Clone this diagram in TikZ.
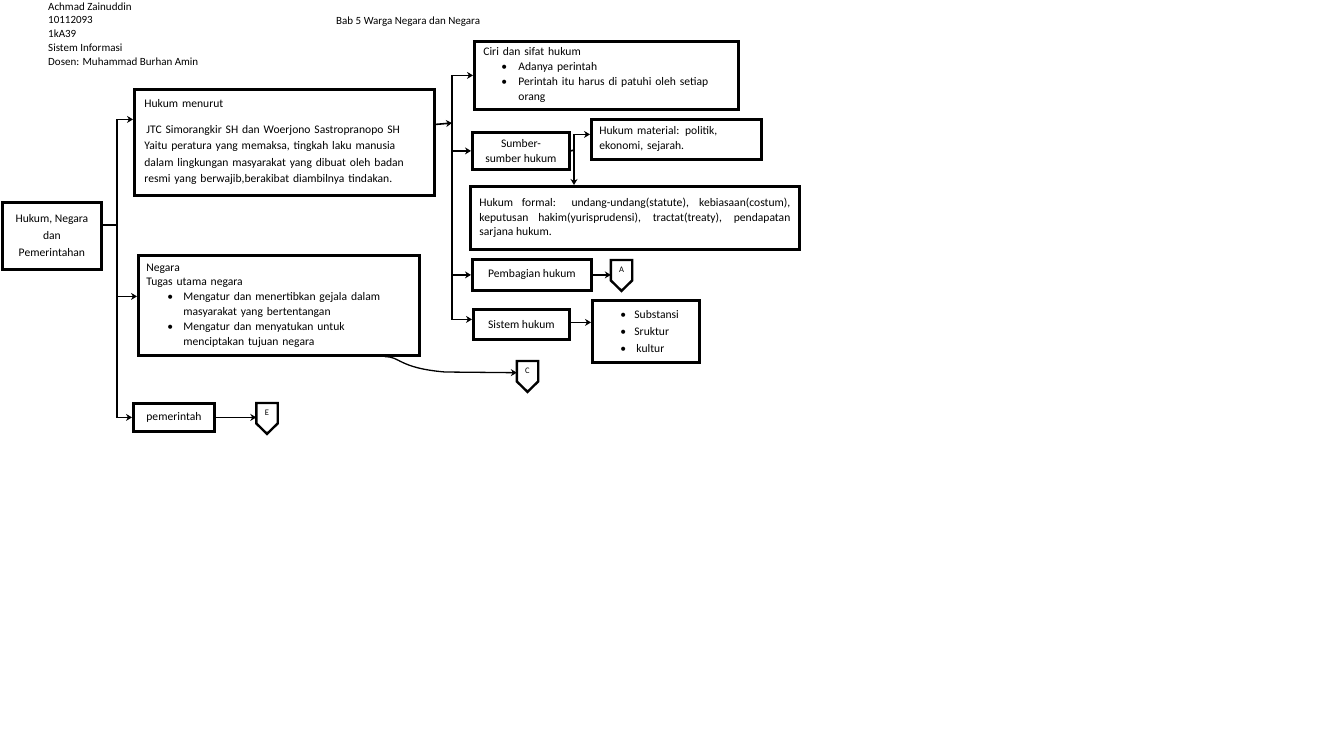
\documentclass[tikz,border=0pt]{standalone}
\usepackage{fontspec}
\setmainfont{Carlito}
\usetikzlibrary{arrows.meta}

\newcommand{\bul}[1][16pt]{\makebox[#1][l]{\textbullet}}

\begin{document}
\begin{tikzpicture}[x=1pt, y=-1pt,
    txt/.style={font=\fontsize{11.6}{15}\selectfont},
    box/.style={draw, line width=2.8pt, anchor=north west, inner sep=0pt, txt},
    wire/.style={line width=1.6pt},
    link/.style={line width=1.6pt, -{Stealth[length=6pt,width=7pt]}},
    offpage/.style={minimum width=21pt, minimum height=20pt, inner sep=0pt, anchor=north,
        font=\fontsize{8.5}{9}\selectfont}]
    \fill[white] (0,0) rectangle (1344,745);
    \useasboundingbox (0,0) rectangle (1344,745);

    % --- Header ---
    \foreach \t [count=\i] in {Achmad Zainuddin, 10112093, 1kA39, Sistem Informasi, Dosen: Muhammad Burhan Amin}
        \node[anchor=base west, inner sep=0pt, font=\fontsize{11}{13}\selectfont] (head\i) at (48, 10+13.75*\i-13.75) {\t};
    \node[anchor=base west, inner sep=0pt, font=\fontsize{11}{13}\selectfont] (title) at (336,24) {Bab 5 Warga Negara dan Negara};

    % --- Left column ---
    \node[box, minimum width=99pt, minimum height=67pt, align=center, font=\fontsize{11.6}{17}\selectfont] (root) at (1,201) {Hukum, Negara\\dan\\Pemerintahan};
    \node[box, minimum width=300pt, minimum height=106pt, text width=280pt, inner xsep=10pt, align=left, font=\fontsize{11.6}{16.5}\selectfont] (hukum) at (133,88)
        {Hukum menurut\\[9pt] \hspace*{2pt}JTC Simorangkir SH dan Woerjono Sastropranopo SH\\ Yaitu peratura yang memaksa, tingkah laku manusia\\ dalam lingkungan masyarakat yang dibuat oleh badan\\ resmi yang berwajib,berakibat diambilnya tindakan.};
    \node[box, minimum width=281pt, minimum height=100pt, text width=265pt, inner xsep=8pt, align=left, font=\fontsize{11.6}{14.8}\selectfont] (negara) at (137,254)
        {Negara\\ Tugas utama negara\\ \hspace*{21pt}\bul Mengatur dan menertibkan gejala dalam\\ \hspace*{37pt}masyarakat yang bertentangan\\ \hspace*{21pt}\bul Mengatur dan menyatukan untuk\\ \hspace*{37pt}menciptakan tujuan negara};
    \node[box, minimum width=81pt, minimum height=28pt] (pemerintah) at (132,402) {pemerintah};
    \node[offpage] (E) at (267,403) {E};

    % --- Right column ---
    \node[box, minimum width=264pt, minimum height=68pt, text width=246pt, inner xsep=9pt, align=left] (ciri) at (473,40)
        {Ciri dan sifat hukum\\ \hspace*{18pt}\bul[17pt]Adanya perintah\\ \hspace*{18pt}\bul[17pt]Perintah itu harus di patuhi oleh setiap\\ \hspace*{35pt}orang};
    \node[box, minimum width=97pt, minimum height=37pt, align=center] (sumber) at (471,131) {Sumber-\\sumber hukum};
    \node[box, minimum width=170pt, minimum height=40pt, text width=154pt, inner xsep=8pt, align=left] (material) at (590,118) {Hukum material: politik,\\ ekonomi, sejarah.};
    \node[box, minimum width=329pt, minimum height=63pt, text width=311pt, inner xsep=9pt, align=justify, font=\fontsize{11.6}{14.5}\selectfont] (formal) at (469,185)
        {Hukum formal: undang-undang(statute), kebiasaan(costum),\linebreak keputusan hakim(yurisprudensi), tractat(treaty), pendapatan\linebreak sarjana hukum.};
    \node[box, minimum width=119pt, minimum height=31pt] (pembagian) at (471,258) {Pembagian hukum};
    \node[offpage] (A) at (621.5,260) {A};
    \node[box, minimum width=107pt, minimum height=62pt, text width=79pt, inner xsep=14pt, align=left, font=\fontsize{11.6}{17}\selectfont] (struktur) at (591,299)
        {\hspace*{14pt}\bul[14pt]Substansi\\ \hspace*{14pt}\bul[14pt]Sruktur\\ \hspace*{14pt}\bul[14pt]\hspace{2pt}kultur};
    \node[box, minimum width=96pt, minimum height=30pt] (sistem) at (472,308) {Sistem hukum};
    \node[offpage] (C) at (527.5,361) {C};

    % --- Off-page connectors ---
    \foreach \n in {A,C,E}
        \draw[line width=2.4pt] (\n.north west) -- (\n.north east) -- (\n.south east) -- ([yshift=-10.5pt]\n.south) -- (\n.south west) -- cycle;

    % --- Connectors ---
    \coordinate (trunkL) at (117,225);
    \draw[wire] (root.east |- trunkL) -- (trunkL);
    \draw[link] (trunkL) |- ([yshift=23pt]hukum.west);
    \draw[link] (trunkL) |- ([yshift=9pt]negara.west);
    \draw[link] (trunkL) |- (pemerintah.west);

    \coordinate (trunkR) at (452,123);
    \draw[link] ([yshift=18pt]hukum.east) -- (trunkR);
    \draw[link] (trunkR) |- (ciri.west);
    \draw[link] (trunkR) |- (sumber.west);
    \draw[link] (trunkR) |- (pembagian.west);
    \draw[link] (trunkR) |- ([yshift=5pt]sistem.west);

    \coordinate (split) at (574,150);
    \draw[wire] (sumber.east) -- (split);
    \draw[link] (split) |- ([yshift=5pt]material.west);
    \draw[link] (split) -- (split |- formal.north);

    \draw[link] (pembagian.east) -- (pembagian.east -| A.west);
    \draw[link] ([yshift=2pt]sistem.east) -- ([yshift=2pt]sistem.east -| struktur.west);
    \draw[link] (pemerintah.east) -- (pemerintah.east -| E.west);
    \draw[link, line width=1.3pt] ([xshift=-36pt]negara.south east) .. controls (400,356) and (398,368) .. (445,372) -- ([yshift=-1.5pt]C.west);
\end{tikzpicture}
\end{document}
